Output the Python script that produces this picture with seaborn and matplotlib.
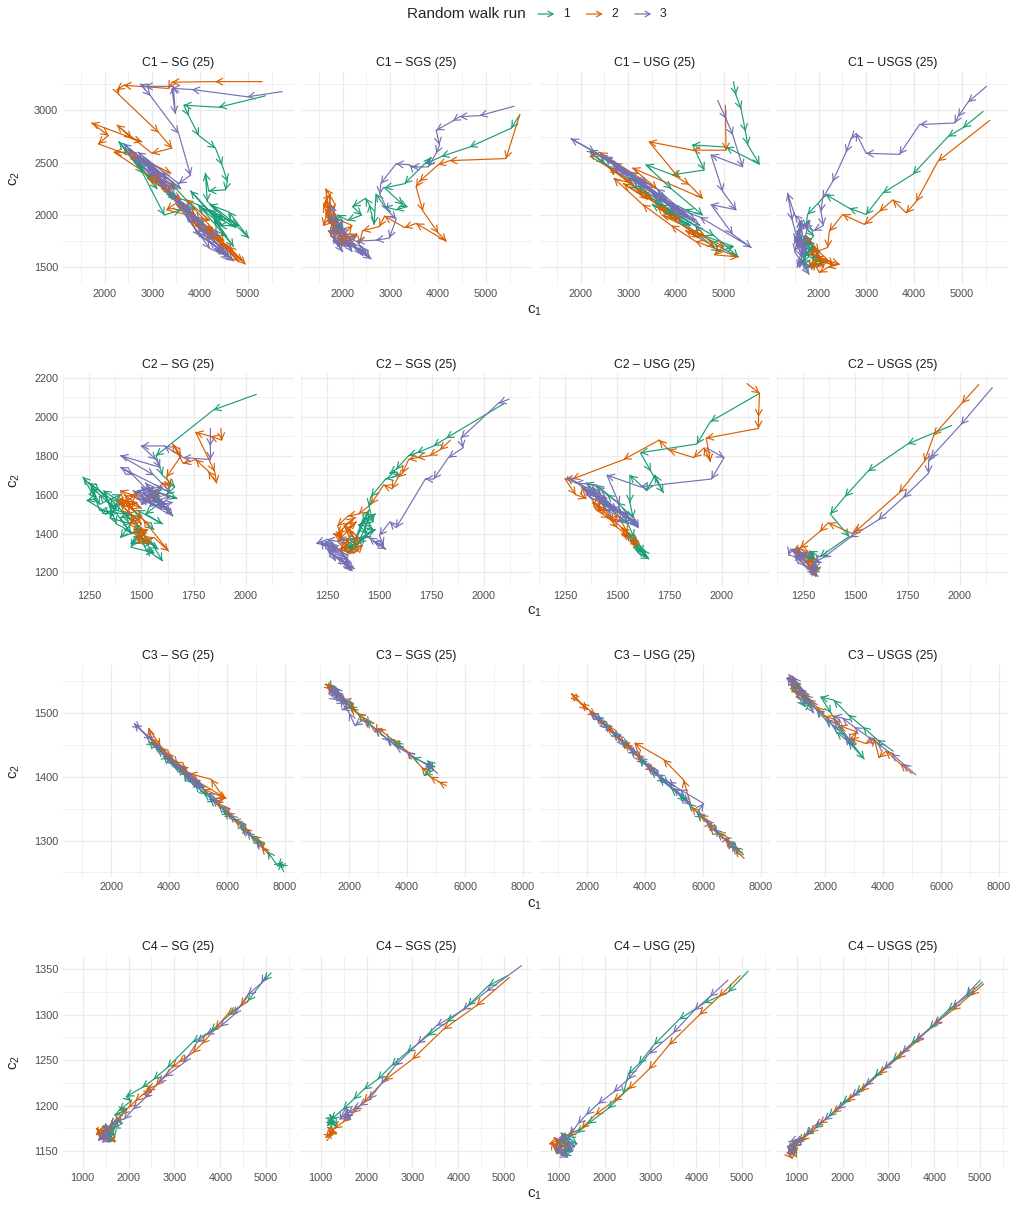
import matplotlib
matplotlib.use("Agg")
import matplotlib.pyplot as plt
from matplotlib.patches import FancyArrowPatch
import pandas as pd
import seaborn as sns

# ---------------- categories / labels ----------------
COMPONENTS = ["C1", "C2", "C3", "C4"]
METHODS = ["SG", "SGS", "USG", "USGS"]
RUNS = ["1", "2", "3"]
N_LABEL = 25
COLORS = ["#1B9E77", "#D95F02", "#7570B3"]

X_MAJOR = {"C1": [2000, 3000, 4000, 5000], "C2": [1250, 1500, 1750, 2000],
           "C3": [2000, 4000, 6000, 8000], "C4": [1000, 2000, 3000, 4000, 5000]}
X_MINOR = {"C1": [1500, 2500, 3500, 4500, 5500], "C2": [1125, 1375, 1625, 1875, 2125],
           "C3": [1000, 3000, 5000, 7000], "C4": [1500, 2500, 3500, 4500, 5500]}
Y_MAJOR = {"C1": [1500, 2000, 2500, 3000], "C2": [1200, 1400, 1600, 1800, 2000, 2200],
           "C3": [1300, 1400, 1500], "C4": [1150, 1200, 1250, 1300, 1350]}
Y_MINOR = {"C1": [1750, 2250, 2750, 3250], "C2": [1300, 1500, 1700, 1900, 2100],
           "C3": [1250, 1350, 1450, 1550], "C4": [1175, 1225, 1275, 1325]}

# ---------------- random-walk paths (c1, c2) ----------------
C1_SG_RUN1 = [(5370,3140),(4390,3030),(3660,3050),(3760,2950),(3970,2760),(4320,2640),(4460,2480),(4570,2320),(4530,2240),(4180,2230),(4110,2400),(4150,2130),(4670,1940),(5020,1780),(4600,2030),(4200,2100),(4750,1880),(4300,1990),(3800,2230),(4450,1900),(3950,2100),(3300,2200),(3900,2050),(3400,2300),(2900,2380),(3500,2150),(2700,2500),(3100,2250),(2400,2650),(2300,2700),(2800,2400),(3250,2000),(3600,2050),(4100,1900),(4550,1800),(4300,1950),(4700,1700),(4000,2080),(4500,1950),(4200,2050),(4800,1900),(4400,1900)]
C1_SG_RUN2 = [(5300,3275),(4320,3275),(3410,3270),(3340,3210),(2400,3240),(2260,3195),(2300,3150),(3130,2790),(3410,2640),(2990,2590),(2260,2860),(2570,2730),(2780,2700),(1730,2880),(2080,2760),(1870,2680),(2710,2540),(3390,2400),(2500,2600),(2200,2600),(3200,2300),(2900,2350),(3600,2150),(3300,2050),(4200,1950),(3700,2150),(4500,1750),(4100,1900),(4950,1530),(4600,1700),(3800,1950),(4300,1780),(4800,1560),(3000,2400),(3500,2250),(3200,2250),(3900,2000),(3500,2100),(4250,1850),(3900,1900),(4700,1650),(4400,1720),(4900,1560)]
C1_SG_RUN3 = [(5720,3180),(4990,3130),(3830,3200),(3410,3210),(3480,2970),(3440,3230),(2850,3230),(2750,3250),(2960,3140),(3550,2780),(3800,2380),(3550,2300),(2700,2600),(3300,2350),(2400,2680),(3000,2450),(3600,2250),(3200,2400),(2600,2550),(3400,2200),(4000,1950),(3600,2100),(4300,1750),(3900,1850),(4700,1560),(4400,1700),(3700,2000),(4200,1680),(4600,1600),(2900,2500),(3300,2250),(4000,1800),(4500,1650),(2500,2620),(3100,2380),(2700,2560),(3500,2250),(3100,2330),(3800,2050),(3400,2200),(4100,1900),(3700,2050),(4400,1800),(4000,1880),(4600,1620),(4300,1680),(4650,1580),(4200,1750),(3500,2150),(2900,2450),(3300,2280)]

C1_SGS_RUN1 = [(5710,2960),(5530,2830),(4660,2650),(4070,2560),(3750,2490),(3850,2550),(3300,2300),(2880,2260),(3260,2100),(3350,2080),(3120,2050),(2880,2080),(2700,2200),(2660,1910),(2560,2100),(2480,2160),(2210,2080),(2400,2000),(2100,1950),(1900,2000),(1860,1940),(2000,1850),(1800,1900),(1950,1880)]
C1_SGS_RUN2 = [(5710,2960),(5420,2540),(4240,2520),(4000,2480),(3610,2320),(3540,2270),(3680,2040),(4000,1830),(4170,1750),(3540,1920),(3300,1880),(2880,1990),(2770,1890),(2420,1850),(2350,1730),(2100,1800),(1900,1750),(2200,1900),(1700,2000),(1850,2100),(1650,2250),(1700,2050),(1600,1900),(1900,1950),(1750,1800),(2050,1700),(1800,1850),(1650,2150),(1950,1800),(1750,1950),(1650,2050),(1800,1900),(1600,2100),(1750,2200),(1700,1950),(1900,1850),(2100,1780),(2300,1820),(1950,1750)]
C1_SGS_RUN3 = [(5590,3040),(4870,2950),(4450,2940),(4310,2900),(3960,2810),(4030,2670),(3960,2590),(3790,2460),(3450,2460),(3400,2480),(3120,2490),(2800,2300),(2780,2200),(2950,2040),(3120,1960),(2980,1780),(2700,1760),(2300,1750),(2560,1590),(2400,1700),(2000,1750),(1800,1900),(1950,1800),(1700,2000),(2100,1700),(1900,1850),(2200,1650),(1850,1950),(1750,2100),(2050,1800),(1900,1700),(2300,1800),(1700,1850),(2000,1650),(1800,1800),(2200,1700),(1950,1900),(2400,1620),(2100,1750),(2600,1580),(2350,1680),(1800,1750),(2000,1950),(1700,1950)]

C1_USG_RUN1 = [(5200,3275),(5250,3150),(5360,3015),(5450,2800),(5500,2670),(5745,2485),(5045,2650),(4345,2670),(4590,2430),(3925,2385),(3365,2480),(3900,2250),(4555,2000),(4200,2050),(3500,2200),(3800,2150),(3000,2350),(2600,2450),(2200,2600),(2500,2500),(3200,2250),(4000,2000),(4800,1800),(5300,1600),(4700,1750),(4400,1900),(3700,2100),(4900,1650),(5200,1700),(4300,1850),(3600,2150),(3200,2280),(3900,2000),(3500,2100),(4300,1900),(4000,1980)]
C1_USG_RUN2 = [(5030,3050),(5045,2620),(4345,2620),(3435,2700),(4065,2350),(4275,2290),(4555,2160),(3085,2450),(3600,2250),(2400,2600),(2200,2560),(2800,2400),(3400,2150),(2900,2300),(3800,2050),(4100,1950),(3700,2000),(4600,1800),(4300,1850),(5000,1700),(4800,1620),(5300,1600),(4400,1750),(3900,1900),(3300,2100),(2700,2350),(3100,2300),(2600,2450),(3500,2150),(3200,2250),(4000,1950),(3600,2080),(4500,1780),(4200,1850),(4800,1700)]
C1_USG_RUN3 = [(4870,3095),(5045,2920),(5185,2765),(5395,2460),(4730,2575),(4975,2225),(5255,2050),(4730,2100),(5185,1815),(5570,1690),(4500,1980),(4100,2050),(3600,2250),(3000,2400),(2500,2550),(1800,2730),(2300,2600),(2800,2450),(3400,2300),(3100,2350),(3800,2150),(3500,2200),(4200,2000),(3900,2100),(3200,2350),(2700,2500),(2200,2620),(2900,2420),(3700,2180),(4400,1950),(3800,2120),(2400,2580),(3000,2380),(2700,2450),(3400,2250),(3100,2330),(3800,2120),(3500,2200),(4200,1980),(3900,2060),(4500,1900),(3600,2180),(3000,2420),(2500,2560)]

C1_USGS_RUN1 = [(5445,2990),(5025,2835),(4710,2750),(3975,2390),(3345,2210),(2995,2005),(2645,2065),(2155,2195),(1770,2005),(1735,1880),(1900,1800),(1700,1700),(1600,1800),(1800,1600),(1650,1550),(1900,1500),(2000,1650),(1750,1750),(1700,1500),(2100,1550),(1850,1700),(1800,1650),(1650,1600),(1900,1700),(1700,1800),(1950,1550)]
C1_USGS_RUN2 = [(5585,2905),(4500,2515),(4045,2130),(3835,2020),(3555,2145),(3275,2035),(2960,1910),(2505,2005),(2225,1845),(2190,1690),(1805,1625),(2100,1580),(2435,1530),(2200,1500),(2015,1450),(1900,1550),(1750,1800),(2000,1650),(1800,1500),(2200,1560),(1950,1600),(2100,1500),(1900,1700),(2300,1520),(2000,1580),(1850,1480)]
C1_USGS_RUN3 = [(5515,3230),(5130,3080),(4920,2940),(4850,2880),(4115,2865),(3695,2580),(2995,2590),(2785,2780),(2680,2730),(2575,2600),(2295,2320),(2085,2160),(2050,2035),(2100,1900),(1900,1850),(1700,1900),(1500,2000),(1350,2210),(1450,1950),(1600,1700),(1500,1800),(1650,1600),(1550,1500),(1700,1750),(1800,1950),(1600,1850),(1500,1650),(1800,1433),(1700,1550),(1600,1950),(1750,1650),(1650,1700),(1550,1850),(1700,1600),(1600,1500),(1750,1800),(1550,1700),(1650,1950),(1500,1750),(1700,1650)]

C2_SG_RUN1 = [(2050,2115),(1845,2035),(1570,1800),(1600,1700),(1660,1640),(1620,1600),(1670,1580),(1560,1620),(1580,1550),(1520,1500),(1600,1450),(1480,1520),(1400,1480),(1450,1400),(1350,1550),(1300,1600),(1220,1690),(1280,1580),(1240,1570),(1350,1500),(1400,1560),(1320,1620),(1380,1450),(1500,1380),(1450,1350),(1550,1350),(1600,1260),(1520,1320),(1480,1450),(1420,1500),(1300,1520),(1260,1640),(1300,1550),(1400,1600),(1350,1480),(1450,1450),(1400,1380),(1500,1420),(1450,1330),(1560,1300),(1500,1380),(1580,1320),(1350,1580),(1250,1660),(1300,1620),(1380,1520),(1500,1480),(1560,1420)]
C2_SG_RUN2 = [(1880,1940),(1885,1880),(1830,1900),(1760,1920),(1850,1720),(1860,1660),(1820,1720),(1760,1780),(1700,1760),(1650,1860),(1690,1800),(1620,1690),(1640,1640),(1600,1660),(1550,1580),(1450,1600),(1400,1620),(1420,1540),(1480,1560),(1380,1570),(1450,1500),(1500,1450),(1460,1400),(1530,1420),(1480,1350),(1560,1380),(1630,1310),(1510,1470),(1430,1560),(1500,1530),(1420,1600),(1460,1520),(1400,1580),(1500,1480),(1440,1450),(1520,1400),(1470,1380),(1540,1350),(1490,1420),(1450,1500),(1400,1550),(1480,1600)]
C2_SG_RUN3 = [(1830,1940),(1830,1850),(1830,1780),(1700,1790),(1610,1850),(1500,1850),(1570,1780),(1590,1740),(1400,1800),(1560,1700),(1640,1610),(1400,1740),(1460,1700),(1640,1500),(1500,1640),(1540,1560),(1460,1620),(1600,1560),(1520,1600),(1640,1520),(1480,1580),(1560,1640),(1500,1550),(1640,1590),(1540,1620),(1600,1520),(1500,1580),(1620,1550),(1560,1600),(1650,1490),(1520,1660),(1580,1580),(1480,1620),(1600,1640),(1540,1540),(1650,1560)]

C2_SGS_RUN1 = [(2100,2070),(1820,1890),(1760,1850),(1680,1815),(1640,1800),(1580,1730),(1550,1710),(1600,1700),(1530,1680),(1460,1590),(1450,1540),(1470,1460),(1400,1445),(1440,1400),(1480,1420),(1420,1380),(1340,1370),(1370,1320),(1330,1330),(1400,1350),(1450,1480),(1480,1500),(1420,1470),(1360,1300),(1450,1520),(1420,1460),(1470,1420),(1400,1350),(1380,1320),(1430,1390)]
C2_SGS_RUN2 = [(1840,1880),(1790,1830),(1740,1800),(1680,1790),(1640,1780),(1610,1710),(1590,1690),(1560,1630),(1520,1650),(1460,1550),(1400,1500),(1350,1490),(1300,1440),(1320,1380),(1280,1400),(1360,1350),(1310,1320),(1380,1300),(1420,1340),(1340,1420),(1390,1460),(1300,1360),(1350,1300),(1400,1380),(1330,1440),(1380,1480),(1300,1400),(1350,1330),(1400,1310),(1360,1420)]
C2_SGS_RUN3 = [(2120,2090),(2070,2070),(1890,1890),(1900,1840),(1830,1790),(1760,1680),(1720,1680),(1580,1430),(1550,1460),(1500,1390),(1520,1340),(1470,1360),(1530,1320),(1450,1380),(1300,1360),(1250,1370),(1200,1350),(1280,1330),(1330,1280),(1350,1240),(1380,1220),(1320,1260),(1250,1320),(1220,1360),(1300,1300),(1360,1210),(1340,1280),(1270,1350),(1230,1340),(1300,1330),(1260,1300),(1340,1240),(1300,1280),(1370,1210),(1320,1310),(1240,1360),(1290,1260)]

C2_USG_RUN1 = [(2180,2120),(1945,1975),(1880,1860),(1610,1815),(1660,1720),(1720,1610),(1680,1700),(1640,1620),(1560,1700),(1560,1560),(1575,1480),(1500,1560),(1450,1600),(1400,1640),(1350,1660),(1450,1540),(1550,1450),(1580,1380),(1600,1300),(1650,1270),(1620,1320),(1540,1400),(1600,1360),(1620,1300),(1580,1350),(1640,1280),(1600,1320)]
C2_USG_RUN2 = [(2120,2170),(2180,2120),(2175,2000),(2175,1940),(1925,1890),(1945,1770),(1915,1840),(1865,1790),(1745,1830),(1700,1880),(1530,1780),(1285,1680),(1250,1680),(1300,1600),(1350,1580),(1330,1640),(1420,1520),(1400,1600),(1480,1460),(1500,1500),(1550,1400),(1520,1430),(1600,1350),(1470,1480),(1380,1560),(1450,1520),(1400,1520),(1460,1480),(1500,1430),(1560,1380),(1520,1400),(1600,1340),(1560,1360)]
C2_USG_RUN3 = [(1925,1840),(2010,1790),(1950,1680),(1610,1640),(1450,1700),(1510,1550),(1400,1650),(1300,1660),(1260,1690),(1380,1620),(1450,1580),(1350,1600),(1480,1520),(1420,1560),(1550,1500),(1500,1460),(1580,1470),(1600,1430),(1450,1520),(1380,1640),(1520,1500),(1600,1450),(1400,1600),(1330,1640),(1450,1560),(1400,1590),(1500,1520),(1470,1540),(1560,1480),(1520,1500),(1600,1440),(1350,1620),(1420,1570)]

C2_USGS_RUN1 = [(1960,1955),(1750,1860),(1560,1720),(1450,1590),(1380,1500),(1470,1385),(1330,1280),(1280,1310),(1300,1260),(1260,1290),(1320,1220),(1290,1200),(1310,1250),(1280,1280),(1300,1300)]
C2_USGS_RUN2 = [(2090,2165),(2010,2070),(1875,1905),(1830,1770),(1710,1610),(1500,1410),(1485,1400),(1370,1455),(1330,1410),(1235,1325),(1200,1310),(1250,1290),(1220,1330),(1280,1300),(1300,1240),(1290,1200),(1330,1220),(1270,1260),(1310,1180),(1240,1300),(1300,1210)]
C2_USGS_RUN3 = [(2155,2150),(2005,1960),(1860,1790),(1850,1770),(1850,1710),(1730,1585),(1610,1470),(1475,1380),(1345,1275),(1300,1250),(1230,1300),(1190,1320),(1180,1290),(1250,1270),(1300,1200),(1320,1180),(1280,1220),(1210,1280),(1270,1300),(1330,1250),(1300,1210),(1220,1300),(1280,1280),(1200,1320),(1260,1230),(1310,1200),(1290,1240)]

C3_SG_RUN1 = [(7950,1258),(7800,1262),(7900,1266),(7750,1260),(7400,1283),(7000,1300),(7200,1295),(6800,1308),(6500,1318),(6600,1326),(6200,1333),(5900,1345),(6100,1340),(5700,1355),(5400,1365),(5600,1362),(5200,1374),(4900,1388),(5100,1386),(4700,1394),(4500,1405),(4300,1414),(4600,1408),(4100,1420),(3800,1432),(4000,1428),(3600,1443),(3300,1455),(3500,1450),(4200,1418),(4800,1390),(5300,1372)]
C3_SG_RUN2 = [(7500,1275),(7200,1290),(7300,1296),(6900,1305),(6600,1320),(6700,1315),(6300,1333),(6000,1345),(6100,1350),(5600,1360),(5900,1366),(5450,1396),(4700,1405),(4400,1418),(4600,1412),(4200,1424),(3900,1436),(4100,1430),(3700,1445),(3400,1460),(3300,1476),(3700,1448),(4300,1420),(5000,1392),(5970,1366),(5200,1380),(4800,1396),(4500,1410)]
C3_SG_RUN3 = [(7300,1285),(7000,1298),(6700,1314),(6800,1312),(6400,1328),(6100,1340),(6200,1338),(5800,1353),(5500,1365),(5700,1362),(5300,1375),(5000,1388),(5200,1384),(4800,1396),(4500,1408),(4700,1403),(4300,1416),(4000,1428),(4200,1424),(3800,1437),(3500,1450),(3700,1446),(3200,1465),(2800,1483),(3000,1475),(3400,1458),(3900,1432),(4400,1412),(4900,1392),(4600,1404),(5100,1384),(4700,1398),(4200,1419),(4800,1394)]

C3_SGS_RUN1 = [(4950,1415),(4700,1425),(4900,1410),(4600,1402),(4800,1418),(4200,1430),(3600,1455),(3800,1445),(3300,1460),(2900,1475),(2600,1488),(2700,1482),(2300,1500),(2000,1512),(2200,1505),(1800,1520),(1500,1535),(1700,1526),(1300,1545),(1400,1538),(1600,1530),(1250,1540)]
C3_SGS_RUN2 = [(5350,1386),(5100,1392),(4800,1400),(4500,1415),(4000,1440),(3500,1458),(3000,1476),(2900,1470),(2600,1490),(2300,1498),(2050,1508),(2150,1515),(1800,1522),(1500,1532),(1350,1540),(1200,1545),(1400,1536),(1300,1545),(1600,1528)]
C3_SGS_RUN3 = [(5050,1405),(4700,1420),(4900,1412),(4000,1438),(3600,1448),(3300,1460),(3400,1455),(2900,1475),(2500,1490),(2200,1480),(2000,1500),(1700,1520),(1500,1530),(1800,1525),(1300,1540),(1600,1532),(1400,1535),(1700,1525),(1900,1518),(1500,1540),(1300,1530),(1600,1520),(1850,1515),(1400,1542),(2100,1510),(1750,1505)]

C3_USG_RUN1 = [(7400,1278),(7100,1290),(7200,1286),(6800,1300),(6500,1312),(6600,1310),(6200,1326),(5800,1342),(6000,1336),(5500,1358),(5200,1370),(5400,1364),(4900,1382),(4500,1398),(4700,1392),(4200,1410),(3800,1428),(4000,1422),(3500,1442),(3200,1456),(3400,1448),(2900,1470),(2600,1482),(2800,1476),(2300,1495),(2500,1488),(3100,1460),(3700,1434)]
C3_USG_RUN2 = [(7420,1272),(7100,1286),(6800,1298),(6900,1304),(6500,1312),(6200,1322),(6300,1328),(5900,1340),(5600,1352),(5330,1395),(4640,1427),(3650,1453),(3800,1430),(4300,1408),(4100,1418),(3700,1435),(3300,1452),(3500,1446),(3000,1465),(2700,1478),(2900,1470),(2400,1490),(2100,1502),(2300,1496),(1800,1515),(1460,1530),(1700,1518),(2000,1505)]
C3_USG_RUN3 = [(7350,1276),(7000,1290),(7100,1295),(6700,1304),(6400,1318),(6500,1314),(6100,1332),(5800,1344),(6020,1358),(5200,1380),(4800,1392),(5000,1385),(4400,1404),(4100,1416),(4300,1412),(3800,1430),(3500,1442),(3700,1438),(3200,1456),(2900,1468),(3100,1462),(2600,1482),(2300,1494),(2500,1488),(2100,1500),(2700,1476),(3300,1450),(3900,1425),(4500,1400),(4200,1414),(4800,1388),(5500,1360),(5000,1382),(5600,1355)]

C3_USGS_RUN1 = [(4350,1440),(3800,1458),(3300,1478),(2800,1497),(2300,1520),(1850,1525),(2200,1500),(2600,1470),(3000,1448),(3345,1428),(2800,1455),(2400,1470),(2100,1490),(1700,1505),(1400,1520),(1200,1532),(900,1545),(1100,1538),(800,1552),(1000,1530),(1300,1510),(1500,1515),(1200,1525)]
C3_USGS_RUN2 = [(5000,1405),(4600,1420),(4100,1440),(3860,1430),(3690,1460),(3400,1452),(2880,1460),(3100,1470),(2500,1480),(2300,1490),(2000,1495),(1700,1510),(1400,1522),(1200,1535),(900,1550),(750,1555),(1000,1548),(850,1540),(1100,1530),(800,1545),(1300,1520),(1000,1535)]
C3_USGS_RUN3 = [(5130,1403),(4700,1420),(4300,1436),(3800,1452),(3500,1462),(3000,1478),(2600,1492),(2300,1495),(2500,1478),(2900,1455),(3000,1445),(2700,1462),(2300,1480),(2000,1490),(1700,1505),(1500,1520),(1300,1528),(1100,1540),(900,1550),(750,1560),(850,1545),(700,1555),(1000,1540),(800,1550),(1200,1532),(1000,1525),(1400,1515),(1200,1538),(900,1556),(1600,1500)]

C4_SG_RUN1 = [(5110,1346),(4950,1338),(4600,1315),(4200,1300),(3800,1282),(3400,1270),(2850,1242),(2550,1229),(2300,1220),(1950,1210),(2050,1205),(1800,1195),(1950,1195),(1700,1190),(1850,1180),(1650,1175),(1700,1165),(1550,1160),(1600,1170),(1450,1165),(1500,1180),(1650,1168),(1750,1185),(1600,1178),(1550,1165)]
C4_SG_RUN2 = [(4600,1320),(4450,1310),(4150,1300),(3900,1285),(3600,1268),(3400,1258),(3100,1248),(2950,1242),(2600,1222),(2400,1218),(2500,1215),(2300,1212),(2150,1205),(2000,1198),(1850,1190),(1700,1182),(1600,1175),(1400,1170),(1300,1175),(1450,1165),(1350,1162),(1550,1172),(1700,1160),(1450,1178),(1300,1168)]
C4_SG_RUN3 = [(5000,1343),(4900,1335),(4600,1322),(4300,1300),(4000,1287),(3700,1278),(3500,1270),(3200,1247),(2800,1232),(2650,1225),(2350,1208),(2100,1196),(1900,1185),(1700,1183),(1600,1178),(1500,1170),(1400,1165),(1600,1160),(1500,1175),(1350,1162),(1550,1168),(1650,1182),(1450,1160),(1550,1172)]

C4_SGS_RUN1 = [(5077,1343),(4662,1332),(4209,1310),(3756,1292),(3341,1277),(2888,1259),(2548,1244),(2246,1229),(1944,1218),(1717,1207),(1491,1196),(1227,1185),(1150,1178),(1300,1182),(1200,1190),(1350,1176),(1180,1184),(1280,1188)]
C4_SGS_RUN2 = [(5115,1341),(4397,1310),(3680,1284),(3000,1251),(2397,1228),(1944,1204),(1700,1192),(1491,1182),(1300,1175),(1113,1165),(1250,1168),(1180,1172),(1350,1170),(1150,1176)]
C4_SGS_RUN3 = [(5379,1354),(4624,1326),(4100,1305),(3530,1288),(3114,1268),(2623,1244),(2321,1224),(2057,1207),(1850,1200),(1717,1196),(1600,1192),(1491,1189),(1650,1185),(1550,1198),(1420,1185),(1700,1190)]

C4_USG_RUN1 = [(5130,1348),(4700,1325),(4180,1313),(3630,1295),(3080,1267),(2750,1246),(2520,1235),(2410,1213),(2080,1197),(1640,1180),(1400,1170),(1200,1165),(1000,1158),(1300,1150),(1100,1145),(900,1155),(1250,1160),(1050,1170),(1400,1158),(1150,1150)]
C4_USG_RUN2 = [(4960,1343),(4500,1320),(4070,1300),(3410,1267),(2970,1240),(2520,1218),(2200,1205),(1800,1190),(1500,1175),(1200,1168),(1000,1162),(800,1158),(1100,1155),(900,1165),(1200,1155),(950,1148),(850,1160)]
C4_USG_RUN3 = [(4690,1338),(4300,1320),(3960,1305),(3500,1280),(2970,1257),(2520,1229),(2200,1215),(1860,1202),(1600,1190),(1420,1180),(1250,1168),(1100,1160),(1300,1150),(1000,1148),(1200,1143),(900,1155),(1100,1165),(1350,1155),(1050,1145),(1250,1160),(950,1150),(1150,1170)]

C4_USGS_RUN1 = [(5050,1336),(4700,1320),(4300,1305),(3900,1285),(3500,1268),(3100,1250),(2700,1232),(2300,1214),(2000,1203),(1700,1188),(1400,1175),(1200,1168),(1050,1160),(900,1155),(1000,1148),(850,1150),(950,1160)]
C4_USGS_RUN2 = [(5080,1334),(4800,1322),(4400,1305),(4000,1290),(3600,1270),(3200,1252),(2800,1235),(2400,1216),(2100,1205),(1800,1192),(1500,1180),(1300,1170),(1100,1162),(950,1155),(800,1148),(900,1142),(1000,1152),(850,1158)]
C4_USGS_RUN3 = [(5000,1338),(4700,1322),(4400,1308),(4000,1288),(3600,1272),(3300,1258),(2900,1240),(2500,1222),(2200,1210),(1900,1196),(1600,1184),(1400,1178),(1200,1168),(1000,1158),(850,1150),(950,1145),(800,1155),(1000,1162),(900,1148),(1100,1165),(850,1160)]

PATHS = {
    ("C1", "SG"): [C1_SG_RUN1, C1_SG_RUN2, C1_SG_RUN3],
    ("C1", "SGS"): [C1_SGS_RUN1, C1_SGS_RUN2, C1_SGS_RUN3],
    ("C1", "USG"): [C1_USG_RUN1, C1_USG_RUN2, C1_USG_RUN3],
    ("C1", "USGS"): [C1_USGS_RUN1, C1_USGS_RUN2, C1_USGS_RUN3],
    ("C2", "SG"): [C2_SG_RUN1, C2_SG_RUN2, C2_SG_RUN3],
    ("C2", "SGS"): [C2_SGS_RUN1, C2_SGS_RUN2, C2_SGS_RUN3],
    ("C2", "USG"): [C2_USG_RUN1, C2_USG_RUN2, C2_USG_RUN3],
    ("C2", "USGS"): [C2_USGS_RUN1, C2_USGS_RUN2, C2_USGS_RUN3],
    ("C3", "SG"): [C3_SG_RUN1, C3_SG_RUN2, C3_SG_RUN3],
    ("C3", "SGS"): [C3_SGS_RUN1, C3_SGS_RUN2, C3_SGS_RUN3],
    ("C3", "USG"): [C3_USG_RUN1, C3_USG_RUN2, C3_USG_RUN3],
    ("C3", "USGS"): [C3_USGS_RUN1, C3_USGS_RUN2, C3_USGS_RUN3],
    ("C4", "SG"): [C4_SG_RUN1, C4_SG_RUN2, C4_SG_RUN3],
    ("C4", "SGS"): [C4_SGS_RUN1, C4_SGS_RUN2, C4_SGS_RUN3],
    ("C4", "USG"): [C4_USG_RUN1, C4_USG_RUN2, C4_USG_RUN3],
    ("C4", "USGS"): [C4_USGS_RUN1, C4_USGS_RUN2, C4_USGS_RUN3],
}

# ---------------- style ----------------
sns.set_theme(style="white")
plt.rcParams["font.family"] = ["Liberation Sans", "DejaVu Sans"]
plt.rcParams["mathtext.default"] = "regular"

W, H = 1017, 1205
fig = plt.figure(figsize=(W / 100, H / 100), dpi=100)

ROW_TOP = [72, 374, 665, 956]
PANEL_H = 212
PANEL_LEFT0, PANEL_STEP, PANEL_W = 63, 238, 231
XLAB_Y = [311, 612, 905, 1195]
HEAD = "->,head_length=0.36,head_width=0.2"
LW = 0.85


def frame(comp, meth, run_idx):
    pts = PATHS[(comp, meth)][run_idx]
    return pd.DataFrame({"c1": [p[0] for p in pts], "c2": [p[1] for p in pts],
                         "run": RUNS[run_idx], "step": range(len(pts))})


for r, comp in enumerate(COMPONENTS):
    row_df = pd.concat([frame(comp, m, k) for m in METHODS for k in range(3)])
    x0, x1 = row_df.c1.min(), row_df.c1.max()
    y0, y1 = row_df.c2.min(), row_df.c2.max()
    xpad, ypad = 0.05 * (x1 - x0), 0.05 * (y1 - y0)
    for j, meth in enumerate(METHODS):
        left = PANEL_LEFT0 + PANEL_STEP * j
        ax = fig.add_axes([left / W, 1 - (ROW_TOP[r] + PANEL_H) / H, PANEL_W / W, PANEL_H / H])
        df = pd.concat([frame(comp, meth, k) for k in range(3)], ignore_index=True)
        sns.lineplot(data=df, x="c1", y="c2", hue="run", hue_order=RUNS, palette=COLORS,
                     sort=False, estimator=None, legend=False, ax=ax, linewidth=LW)
        for k, run in enumerate(RUNS):
            d = df[df.run == run]
            xs, ys = d.c1.to_numpy(), d.c2.to_numpy()
            for i in range(1, len(xs)):
                dx, dy = xs[i] - xs[i - 1], ys[i] - ys[i - 1]
                if dx == 0 and dy == 0:
                    continue
                ax.annotate("", xy=(xs[i], ys[i]),
                            xytext=(xs[i] - 0.02 * dx, ys[i] - 0.02 * dy),
                            arrowprops=dict(arrowstyle=HEAD, color=COLORS[k], lw=LW,
                                            shrinkA=0, shrinkB=0))
        ax.set_xlim(x0 - xpad, x1 + xpad)
        ax.set_ylim(y0 - ypad, y1 + ypad)
        ax.set_xticks(X_MAJOR[comp])
        ax.set_xticks(X_MINOR[comp], minor=True)
        ax.set_yticks(Y_MAJOR[comp])
        ax.set_yticks(Y_MINOR[comp], minor=True)
        ax.set_xticklabels([str(v) for v in X_MAJOR[comp]])
        ax.set_yticklabels([str(v) for v in Y_MAJOR[comp]])
        ax.grid(which="major", color="#EBEBEB", linewidth=0.9)
        ax.grid(which="minor", color="#EBEBEB", linewidth=0.5)
        ax.set_axisbelow(True)
        ax.tick_params(which="both", length=0, labelsize=7.8, colors="#4D4D4D", pad=3.5)
        ax.tick_params(axis="y", labelleft=(j == 0))
        for s in ax.spines.values():
            s.set_visible(False)
        ax.set_facecolor("white")
        ax.set_xlabel("")
        ax.set_ylabel("")
        ax.set_title(f"{comp} \u2013 {meth} ({N_LABEL})", fontsize=8.8, color="#1A1A1A", pad=4)

    fig.text(535 / W, 1 - XLAB_Y[r] / H, r"$c_1$", ha="center", va="center", fontsize=11)
    fig.text(15 / W, 1 - (ROW_TOP[r] + PANEL_H / 2) / H, r"$c_2$", ha="center", va="center",
             rotation=90, fontsize=11)

# ---------------- legend ----------------
LEG_Y = 1 - 14 / H
fig.text(466 / W, LEG_Y, "Random walk run", ha="center", va="center", fontsize=11)
for k, run in enumerate(RUNS):
    xa = 535 + 48.5 * k
    fig.add_artist(FancyArrowPatch((xa / W, LEG_Y), ((xa + 22) / W, LEG_Y),
                                   transform=fig.transFigure, arrowstyle=HEAD,
                                   mutation_scale=10, color=COLORS[k], lw=LW))
    fig.text((xa + 31) / W, LEG_Y, run, ha="center", va="center", fontsize=8.8)

fig.savefig("out.png", dpi=100, facecolor="white")
